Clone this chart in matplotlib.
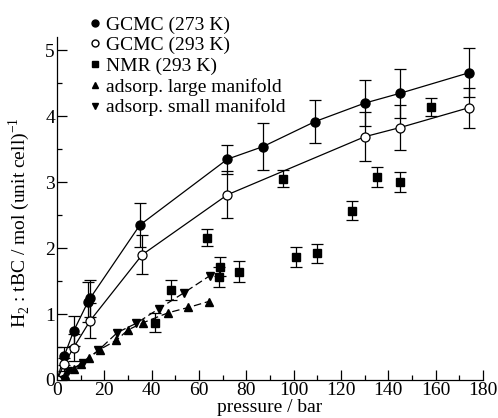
import matplotlib.pyplot as plt
from matplotlib.lines import Line2D
from matplotlib.ticker import MultipleLocator

plt.rcParams['font.family'] = ['Liberation Serif', 'DejaVu Serif']
plt.rcParams['mathtext.fontset'] = 'custom'
plt.rcParams['mathtext.rm'] = 'Liberation Serif'

# GCMC 273 K (filled circles)
p273 = [0, 3, 7, 13, 14, 35, 72, 87, 109, 130, 145, 174]
h273 = [0, 0.36, 0.74, 1.18, 1.24, 2.35, 3.35, 3.54, 3.92, 4.20, 4.35, 4.66]
e273 = [0, 0.14, 0.23, 0.30, 0.28, 0.33, 0.22, 0.36, 0.33, 0.35, 0.37, 0.37]

# GCMC 293 K (open circles)
p293 = [0, 3, 7, 14, 36, 72, 130, 145, 174]
h293 = [0, 0.24, 0.49, 0.90, 1.90, 2.81, 3.69, 3.83, 4.13]
e293 = [0, 0.10, 0.20, 0.27, 0.30, 0.36, 0.37, 0.34, 0.30]

# NMR 293 K (squares)
p_nmr = [41.5, 48, 63.5, 68.5, 69, 77, 95.5, 101, 110, 124.5, 135, 145, 158]
h_nmr = [0.87, 1.37, 2.16, 1.56, 1.72, 1.64, 3.05, 1.87, 1.92, 2.57, 3.08, 3.00, 4.14]
e_nmr = [0.14, 0.15, 0.13, 0.15, 0.15, 0.16, 0.13, 0.15, 0.15, 0.15, 0.15, 0.15, 0.14]

# adsorption, large manifold (up triangles)
p_large = [0, 3.5, 7, 10, 13.3, 18, 25, 30, 36.5, 47, 55.5, 64]
h_large = [0, 0.08, 0.17, 0.24, 0.34, 0.46, 0.60, 0.76, 0.87, 1.02, 1.10, 1.19]

# adsorption, small manifold (down triangles)
p_small = [0, 4.5, 11, 17.5, 25.5, 33.5, 43, 53.5, 64.5]
h_small = [0, 0.13, 0.26, 0.45, 0.72, 0.86, 1.08, 1.32, 1.58]

labels = ['GCMC (273 K)', 'GCMC (293 K)', 'NMR (293 K)',
          'adsorp. large manifold', 'adsorp. small manifold']

fig = plt.figure(figsize=(4.98, 4.18), dpi=100)
ax = fig.add_axes([0.1145, 0.091, 0.8555, 0.82])

ebkw = dict(ecolor='black', elinewidth=0.9, capsize=4, capthick=0.9)

ax.errorbar(p273, h273, yerr=e273, fmt='-o', color='black', lw=0.9,
            ms=6.5, mfc='black', **ebkw)
ax.errorbar(p293, h293, yerr=e293, fmt='-o', color='black', lw=0.9,
            ms=6.5, mfc='white', mew=0.9, **ebkw)
ax.errorbar(p_nmr, h_nmr, yerr=e_nmr, fmt='s', color='black',
            ms=5.5, **ebkw)
ax.plot(p_large, h_large, '^', ls=(0, (6, 3)), color='black', lw=0.9, ms=6)
ax.plot(p_small, h_small, 'v', ls=(0, (6, 3)), color='black', lw=0.9, ms=6)

ax.set_xlim(0, 180)
ax.set_ylim(0, 5.2)
ax.xaxis.set_major_locator(MultipleLocator(20))
ax.xaxis.set_minor_locator(MultipleLocator(10))
ax.yaxis.set_major_locator(MultipleLocator(1))
ax.yaxis.set_minor_locator(MultipleLocator(0.5))
ax.spines['top'].set_visible(False)
ax.spines['right'].set_visible(False)
for s in ('left', 'bottom'):
    ax.spines[s].set_linewidth(0.9)
ax.tick_params(which='both', direction='in', labelsize=14, width=0.9)
ax.tick_params(which='major', length=7, pad=1.5)
ax.tick_params(which='minor', length=3.5)

ax.set_xlabel('pressure / bar', fontsize=14, labelpad=0)
ax.set_ylabel('H$_2$ : tBC / mol (unit cell)$^{-1}$', fontsize=14)
ax.yaxis.set_label_coords(-0.058, 0.458)

# legend sits partly above the axes, markers only
handles = [
    Line2D([], [], ls='none', marker='o', color='black', ms=5),
    Line2D([], [], ls='none', marker='o', color='black', mfc='white', ms=5),
    Line2D([], [], ls='none', marker='s', color='black', ms=4.5),
    Line2D([], [], ls='none', marker='^', color='black', ms=5),
    Line2D([], [], ls='none', marker='v', color='black', ms=5),
]
fig.legend(handles, labels, loc='upper left', bbox_to_anchor=(0.18, 0.962),
           frameon=False, fontsize=14, handlelength=0.5, handletextpad=0.35,
           labelspacing=0.15, borderpad=0, borderaxespad=0)

fig.savefig('out.png', dpi=100)
